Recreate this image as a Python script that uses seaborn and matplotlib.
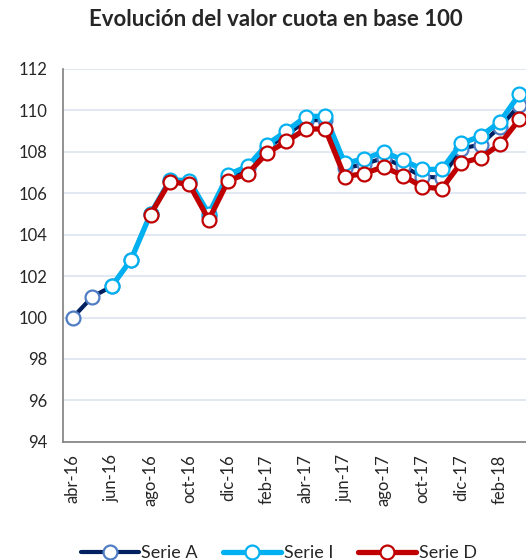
import matplotlib
matplotlib.use("Agg")
import matplotlib.pyplot as plt
import seaborn as sns
import pandas as pd
import numpy as np

nan = float("nan")
months = ["abr-16", "may-16", "jun-16", "jul-16", "ago-16", "sep-16", "oct-16", "nov-16",
          "dic-16", "ene-17", "feb-17", "mar-17", "abr-17", "may-17", "jun-17", "jul-17",
          "ago-17", "sep-17", "oct-17", "nov-17", "dic-17", "ene-18", "feb-18", "mar-18"]
serie_a = [100.0, 101.0, 101.5, 102.8, 105.0, 106.6, 106.5, 104.9, 106.8, 107.2, 108.2, 108.8,
           109.5, 109.55, 107.2, 107.4, 107.7, 107.3, 106.8, 106.75, 108.15, 108.35, 109.2, 110.25]
serie_i = [nan, nan, 101.5, 102.8, 105.0, 106.65, 106.6, 105.0, 106.9, 107.3, 108.35, 109.0,
           109.7, 109.72, 107.45, 107.65, 108.0, 107.6, 107.15, 107.15, 108.4, 108.75, 109.45, 110.78]
serie_d = [nan, nan, nan, nan, 104.97, 106.56, 106.42, 104.72, 106.6, 106.95, 107.93, 108.5,
           109.1, 109.1, 106.8, 106.95, 107.27, 106.85, 106.3, 106.22, 107.47, 107.7, 108.37, 109.57]
series_names = ["Serie A", "Serie I", "Serie D"]
yticks = [94, 96, 98, 100, 102, 104, 106, 108, 110, 112]

line_colors = ["#002060", "#00B0F0", "#C00000"]
edge_colors = ["#4F7CC4", "#00B0F0", "#C00000"]

sns.set_style("white")
plt.rcParams["font.family"] = ["Lato", "DejaVu Sans"]

fig = plt.figure(figsize=(5.26, 5.6), dpi=100)
ax = fig.add_axes([0.12, 0.211, 0.886, 0.666])

x = np.arange(len(months))
for name, vals, lc, ec, lw in zip(series_names, [serie_a, serie_i, serie_d], line_colors, edge_colors, [3.0, 3.8, 3.8]):
    df = pd.DataFrame({"x": x, "v": vals}).dropna()
    sns.lineplot(data=df, x="x", y="v", ax=ax, color=lc, linewidth=lw,
                 marker="o", markersize=10, markerfacecolor="white",
                 markeredgecolor=ec, markeredgewidth=1.6, label=name)

ax.set_ylim(94, 112)
ax.set_xlim(-0.5, len(months) - 0.5)
ax.set_yticks(yticks)
ax.set_yticklabels([str(t) for t in yticks], fontsize=12)
ax.yaxis.grid(True, color="#DCE4F0", linewidth=1.2)
ax.set_axisbelow(True)

bounds = np.arange(-0.5, len(months), 2)
ax.set_xticks(bounds)
ax.set_xticklabels([""] * len(bounds))
ax.set_xticks(x[::2], minor=True)
ax.set_xticklabels(months[::2], minor=True, rotation=90, fontsize=12)
ax.tick_params(axis="x", which="minor", length=0, pad=9)
ax.tick_params(axis="x", which="major", length=5, color="#7F7F7F", width=1.2, direction="out")
ax.tick_params(axis="y", length=5, color="#7F7F7F", width=1.2, direction="out", pad=6)

for s in ["top", "right"]:
    ax.spines[s].set_visible(False)
for s in ["left", "bottom"]:
    ax.spines[s].set_color("#7F7F7F")
    ax.spines[s].set_linewidth(1.2)
ax.set_xlabel("")
ax.set_ylabel("")

fig.text(0.525, 0.965, "Evolución del valor cuota en base 100", ha="center", va="center",
         fontsize=16, fontweight="bold")

if ax.legend_:
    ax.legend_.remove()
handles, labels = ax.get_legend_handles_labels()
fig.legend(handles, labels, loc="center", bbox_to_anchor=(0.53, 0.012), ncol=3, frameon=False,
           fontsize=13, handlelength=3.2, handletextpad=0.15, columnspacing=1.4)

fig.savefig("out.png", dpi=100)
